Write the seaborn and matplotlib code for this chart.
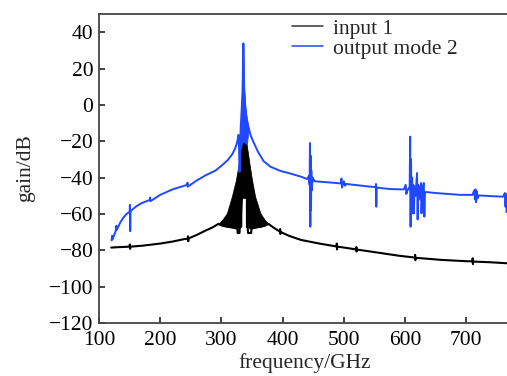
import matplotlib
matplotlib.use("Agg")
import matplotlib.pyplot as plt
import seaborn as sns
import pandas as pd

# ---- data ----
input_freq = [120, 130, 150, 150.4, 150.8, 151.2, 170, 200, 220, 240, 245, 245.4, 245.8,
              246.2, 260, 275, 285, 295, 302, 310, 320, 326, 326.5, 329.5, 330, 332.4,
              332.5, 341.6, 341.7, 343, 343.5, 348.5, 349, 355, 365, 377, 385, 395.5,
              395.9, 396.3, 396.7, 410, 430, 460, 488, 488.4, 488.8, 489.2, 490, 520,
              520.4, 520.8, 521.2, 550, 590, 616, 616.4, 616.8, 617.2, 620, 660, 700,
              710, 710.4, 710.8, 711.2, 740, 770]
input_gain = [-78.5, -78.3, -78.0, -76.8, -79.2, -78.0, -77.5, -76.3, -75.2, -73.8, -73.6,
              -72.3, -75.0, -73.5, -71.5, -69.0, -67.5, -65.5, -66.5, -67.0, -67.5, -68.0,
              -70.5, -70.5, -67.5, -67.0, -51.0, -51.0, -67.0, -68.0, -70.5, -70.5, -68.0,
              -67.5, -67.0, -65.5, -67.5, -69.7, -68.3, -71.0, -69.9, -72.0, -74.3, -76.3,
              -77.9, -76.3, -79.5, -78.0, -78.0, -79.5, -78.2, -80.7, -79.6, -81.0, -83.0,
              -84.0, -82.5, -85.4, -84.1, -84.2, -85.3, -86.0, -86.1, -84.4, -87.6, -86.2,
              -86.6, -87.2]

# envelope of the dense oscillation of input 1 around the resonance
env_freq = [295, 302, 309, 317, 323.7, 328, 331, 333.5, 340.5, 343, 346, 349.9, 355,
            363.5, 370, 377]
env_upper = [-65.5, -63.0, -59.6, -50.5, -41.4, -33.0, -26.0, -20.5, -20.5, -26.0, -33.0,
             -41.4, -50.5, -59.6, -63.0, -65.5]
env_lower = [-65.5, -66.5, -67.0, -67.5, -68.0, -67.5, -67.0, -51.0, -51.0, -67.0, -68.0,
             -68.0, -67.5, -67.0, -66.5, -65.5]

# envelope of the dense oscillation of output mode 2 at the resonance peak
peak_freq = [330.5, 332.0, 333.5, 335.0, 335.8, 336.8, 339.0, 341.5, 344.4]
peak_upper = [-22.0, -9.0, 0.0, 12.0, 33.8, 12.0, 0.0, -8.0, -13.0]
peak_lower = [-22.0, -24.0, -21.0, -20.0, -20.0, -20.0, -21.0, -22.0, -13.0]

output_freq = [120.5, 121.5, 122, 125, 128, 128.5, 129, 135, 140, 145, 150, 150.5, 151,
               151.5, 160, 170, 183, 183.5, 184, 200, 220, 244, 244.5, 245, 260, 275, 290,
               300, 310, 318, 323, 326, 328, 328.8, 329.5, 330.5, 331.5, 333, 334.5, 335.8,
               336.8, 338.5, 341, 344, 348, 353, 360, 369, 380, 396, 415, 430, 440, 443,
               444, 444.6, 445.2, 445.8, 446.3, 446.8, 447.5, 449, 452, 470, 495, 496, 497,
               500, 502, 504, 530, 552, 552.5, 553, 553.5, 575, 598, 601, 602, 604, 607.5,
               608.3, 609, 609.7, 610.5, 611.5, 612.5, 613.5, 614.3, 615.5, 617, 619.5,
               620.5, 621.5, 623, 626, 626.8, 628, 630.5, 631.5, 632.5, 636, 650, 670, 690,
               710, 713, 714, 715, 716, 717, 718, 720, 740, 760, 763, 764, 765, 766, 767,
               770]
output_gain = [-74.5, -72.0, -74.0, -71.5, -68.5, -66.5, -68.8, -64.5, -62.0, -60.0, -58.8,
               -55.0, -69.5, -58.5, -56.0, -54.0, -52.3, -51.0, -53.0, -49.5, -46.5, -44.0,
               -42.8, -45.0, -41.5, -38.6, -36.2, -33.5, -30.5, -27.0, -23.5, -20.0, -16.5,
               -25.0, -36.8, -30.0, -12.0, -3.0, 8.0, 33.8, 8.0, -3.0, -7.0, -12.0, -17.0,
               -21.0, -26.0, -31.0, -34.0, -36.3, -38.0, -39.5, -40.8, -39.0, -44.0, -21.0,
               -67.0, -28.0, -58.0, -36.0, -47.0, -40.0, -42.0, -42.5, -43.2, -40.5, -45.5,
               -42.0, -44.5, -43.5, -44.5, -45.3, -43.5, -56.0, -45.5, -46.3, -46.5, -44.0,
               -49.0, -47.0, -45.0, -17.5, -67.0, -30.0, -60.0, -40.0, -55.0, -44.0, -59.7,
               -45.0, -50.0, -37.5, -63.0, -44.0, -52.0, -43.0, -59.7, -47.0, -43.0, -61.5,
               -48.0, -48.0, -48.5, -49.0, -49.5, -49.5, -47.0, -52.0, -46.5, -53.5, -47.5,
               -51.5, -49.8, -50.2, -50.5, -48.5, -56.0, -49.0, -59.0, -51.0, -55.0]

series_labels = ["input 1", "output mode 2"]
x_ticks = [100, 200, 300, 400, 500, 600, 700]
y_ticks = [-120, -100, -80, -60, -40, -20, 0, 20, 40]

# ---- style ----
sns.set_style("ticks")
plt.rcParams["font.family"] = ["Liberation Serif", "DejaVu Serif"]

BLACK = "#000000"
BLUE = "#1f48ff"
FS = 15.5

fig = plt.figure(figsize=(5.07, 3.76), dpi=100)
ax = fig.add_axes([99 / 507, 53 / 376, (511 - 99) / 507, 309 / 376])

df_in = pd.DataFrame({"freq": input_freq, "gain": input_gain})
df_out = pd.DataFrame({"freq": output_freq, "gain": output_gain})

ax.fill_between(env_freq, env_lower, env_upper, color=BLACK, lw=0.6, zorder=2)
sns.lineplot(data=df_in, x="freq", y="gain", estimator=None, sort=False,
             color=BLACK, lw=1.5, ax=ax, label=series_labels[0], zorder=2)
ax.fill_between(peak_freq, peak_lower, peak_upper, color=BLUE, lw=0.6, zorder=3)
sns.lineplot(data=df_out, x="freq", y="gain", estimator=None, sort=False,
             color=BLUE, lw=1.4, ax=ax, label=series_labels[1], zorder=3)

ax.set_xlim(100, 773)
ax.set_ylim(-120, 50)
ax.set_xticks(x_ticks)
ax.set_yticks(y_ticks)
ax.tick_params(direction="in", length=4, width=1.2, labelsize=FS, colors="#222222",
               labelcolor="black", top=False, right=False)
ax.tick_params(axis="x", pad=5.5)
ax.tick_params(axis="y", pad=4)
for side in ["left", "bottom", "top"]:
    ax.spines[side].set_linewidth(1.3)
    ax.spines[side].set_color("#444444")
ax.spines["right"].set_visible(False)

ax.set_xlabel("frequency/GHz", fontsize=FS, labelpad=2.5)
ax.set_ylabel("gain/dB", fontsize=FS, labelpad=10)

leg = ax.legend(loc="upper left", bbox_to_anchor=(0.469, 0.985), frameon=False,
                fontsize=FS, handlelength=1.45, handletextpad=0.45, labelspacing=0.0,
                borderaxespad=0.0, borderpad=0.0)
leg.get_lines()[0].set_color("#333333")
for line in leg.get_lines():
    line.set_linewidth(1.1)

fig.savefig("out.png", dpi=100)
